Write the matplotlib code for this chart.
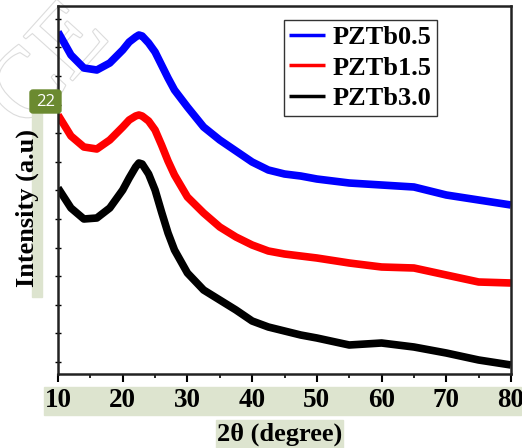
import numpy as np
import matplotlib
matplotlib.use("Agg")
import matplotlib.pyplot as plt
from matplotlib.patches import Rectangle, FancyBboxPatch
import matplotlib.patheffects as pe

# 2theta grid (degree) and intensities (arbitrary units)
two_theta = [10, 12, 14, 16, 18, 20, 21, 22, 22.5, 23, 24, 25, 26, 27, 28, 30,
             32.5, 35, 37.5, 40, 42.5, 45, 47.5, 50, 55, 60, 65, 70, 75, 80]
pztb05 = [342, 319, 306, 304, 311, 324, 332, 337, 339, 338, 331, 322, 309, 296, 284, 267,
          247, 234, 223, 212, 204, 200, 198, 195, 191, 189, 187, 179, 174, 169]
pztb15 = [259, 238, 227, 225, 234, 247, 254, 258, 259, 258, 253, 244, 229, 213, 199, 177,
          161, 147, 137, 129, 123, 120, 118, 116, 111, 107, 106, 99, 92, 91]
pztb30 = [186, 166, 155, 156, 166, 184, 196, 207, 211, 210, 200, 184, 162, 141, 124, 101,
          84, 74, 64, 53, 47, 43, 39, 36, 29, 31, 27, 21, 14, 9]

series = [("PZTb0.5", pztb05, "#0000ff"),
          ("PZTb1.5", pztb15, "#ff0000"),
          ("PZTb3.0", pztb30, "#000000")]

xticks = [10, 20, 30, 40, 50, 60, 70, 80]

plt.rcParams['font.family'] = ['Liberation Serif', 'DejaVu Serif']
plt.rcParams['font.weight'] = 'bold'

W, H = 522, 448
fig = plt.figure(figsize=(W / 100, H / 100), dpi=100)
ax = fig.add_axes([58 / W, 1 - 374 / H, 453 / W, 368 / H])
ax.set_facecolor('none')

# faint watermark letters behind the plot
fig.text(26 / W, 1 - 132 / H, "CE", fontsize=72, rotation=48,
         rotation_mode='anchor', ha='left', va='baseline', color='white',
         fontweight='normal', zorder=-5,
         path_effects=[pe.withStroke(linewidth=1.6, foreground='#dcdcdc')])

for name, vals, col in series:
    ax.plot(two_theta, vals, color=col, lw=5.5, label=name, solid_capstyle='butt')

ax.set_xlim(10, 80)
ax.set_ylim(0, 368)
ax.set_xticks(xticks)
ax.set_xticks(np.arange(15, 80, 10), minor=True)
ax.set_xticklabels([str(t) for t in xticks], fontsize=19.5, fontweight='bold')
ax.set_yticks(np.arange(12, 368, 28.6))
ax.set_yticklabels([])
ax.tick_params(axis='x', which='major', direction='out', length=6, width=1.5, pad=4)
ax.tick_params(axis='x', which='minor', direction='out', length=3, width=1.2)
ax.tick_params(axis='y', direction='inout', length=4, width=1.0)
for s in ax.spines.values():
    s.set_linewidth(1.8)
    s.set_color('#222222')

leg = ax.legend(loc='upper right', bbox_to_anchor=((437 - 58) / 453, (374 - 20) / 368),
                borderaxespad=0, frameon=True, fancybox=False,
                handlelength=1.35, handletextpad=0.3, labelspacing=0.28,
                borderpad=0.2, prop={'weight': 'bold', 'size': 19})
leg.get_frame().set_edgecolor('black')
leg.get_frame().set_linewidth(1.0)
for line in leg.get_lines():
    line.set_linewidth(2.5)

# highlight boxes from the source document
hl = '#dde4cf'
fig.patches.append(Rectangle((44 / W, 1 - 415 / H), 477 / W, 28 / H,
                             transform=fig.transFigure, color=hl, zorder=-2))
fig.patches.append(Rectangle((216 / W, 0), 127 / W, 28 / H,
                             transform=fig.transFigure, color=hl, zorder=-2))
fig.patches.append(Rectangle((32 / W, 1 - 297 / H), 10 / W, 184 / H,
                             transform=fig.transFigure, color=hl, zorder=-2))

fig.text(280 / W, 1 - 434 / H, "2θ (degree)", fontsize=19, fontweight='bold',
         ha='center', va='center')
fig.text(27 / W, 1 - 208 / H, "Intensity (a.u)", fontsize=19, fontweight='bold',
         rotation=90, ha='center', va='center')

# page badge
fig.patches.append(FancyBboxPatch((30 / W, 1 - 113 / H), 31 / W, 23 / H,
                                  boxstyle='round,pad=0,rounding_size=0.006',
                                  transform=fig.transFigure, color='#6b8a30', zorder=5))
fig.text(45.5 / W, 1 - 101.5 / H, "22", color='white', fontsize=12,
         family='Open Sans', fontweight='normal', ha='center', va='center', zorder=6)

fig.savefig("out.png", dpi=100)
